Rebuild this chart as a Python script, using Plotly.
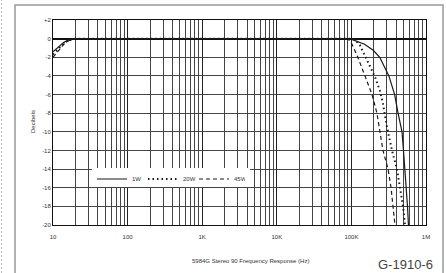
import plotly.graph_objects as go

# ---- data ----
freq_1w = [10, 12, 14, 16, 18, 20, 95000, 150000, 196000, 240000, 318000, 380000,
           422000, 477000, 499000, 523000, 548000, 565000, 582000]
db_1w = [-1.4, -0.8, -0.4, -0.15, -0.03, 0, 0, -0.6, -1.25, -2, -4, -6,
         -8, -10, -12, -14, -16, -18, -20]

freq_20w = [10, 12, 14, 16, 18, 20, 100000, 112000, 130000, 152000, 177000, 207000,
            241000, 265000, 300000, 350000, 408000, 448000, 492000, 523000]
db_20w = [-1.7, -1.0, -0.5, -0.2, -0.05, 0, 0, -0.1, -0.7, -1.8, -2.9, -4.1,
          -5.6, -7, -9.5, -12, -14, -16, -18, -20]

freq_45w = [10, 12, 14, 16, 18, 20, 90000, 102000, 122000, 152000, 189000, 220000,
            241000, 265000, 310000, 340000, 361000, 384000]
db_45w = [-2.0, -1.2, -0.6, -0.25, -0.07, 0, 0, -0.6, -2, -4, -6, -8,
          -10, -12, -14, -16, -18, -20]

x_tickvals = [10, 100, 1000, 10000, 100000, 1000000]
x_ticktext = ["10", "100", "1K", "10K", "100K", "1M"]
y_tickvals = [2, 0, -2, -4, -6, -8, -10, -12, -14, -16, -18, -20]
y_ticktext = ["+2", "0", "-2", "-4", "-6", "-8", "-10", "-12", "-14", "-16", "-18", "-20"]

series_names = ["1W", "20W", "45W"]

FONT = "Liberation Sans"
W, H = 446, 273
ML, MR, MT, MB = 53, 20, 20, 48
PW, PH = W - ML - MR, H - MT - MB


def px_x(p):
    return (p - ML) / PW


def px_y(p):
    return (H - MB - p) / PH


fig = go.Figure()
fig.add_trace(go.Scatter(x=freq_1w, y=db_1w, mode="lines", name=series_names[0],
                         line=dict(color="#1a1a1a", width=1.2)))
fig.add_trace(go.Scatter(x=freq_20w, y=db_20w, mode="lines", name=series_names[1],
                         line=dict(color="#1a1a1a", width=2, dash="1.5px,3px")))
fig.add_trace(go.Scatter(x=freq_45w, y=db_45w, mode="lines", name=series_names[2],
                         line=dict(color="#1a1a1a", width=1.2, dash="4px,3px")))

fig.update_layout(
    width=W, height=H,
    margin=dict(l=ML, r=MR, t=MT, b=MB),
    paper_bgcolor="white", plot_bgcolor="white",
    font=dict(family=FONT, size=6, color="#333"),
    showlegend=True,
    legend=dict(orientation="h", x=px_x(92), y=px_y(179), xanchor="left", yanchor="middle",
                bgcolor="rgba(0,0,0,0)", font=dict(size=6, color="#333"),
                itemwidth=30, entrywidth=6, tracegroupgap=0,
                borderwidth=0),
    xaxis=dict(type="log", range=[1, 6], tickvals=x_tickvals, ticktext=x_ticktext,
               showgrid=True, gridcolor="#222", gridwidth=1,
               minor=dict(dtick="D1", showgrid=True, gridcolor="#444", gridwidth=1),
               showline=True, linecolor="#111", linewidth=1, mirror=True,
               ticks="", ticklabelstandoff=6, zeroline=False,
               tickfont=dict(size=6, color="#333")),
    yaxis=dict(range=[-20, 2], tickvals=y_tickvals, ticktext=y_ticktext,
               showgrid=True, gridcolor="#444", gridwidth=1,
               showline=True, linecolor="#111", linewidth=1, mirror=True,
               ticks="", ticklabelstandoff=0, zeroline=True, zerolinecolor="#111",
               zerolinewidth=1.5, tickfont=dict(size=6, color="#333")),
)

fig.add_annotation(text="Decibels", textangle=-90, x=px_x(33), y=px_y(122),
                   xref="paper", yref="paper", showarrow=False, xanchor="center", yanchor="middle",
                   font=dict(size=6, color="#333"))
fig.add_annotation(text="5984G Stereo 90 Frequency Response (Hz)", x=px_x(250), y=px_y(261),
                   xref="paper", yref="paper", showarrow=False, xanchor="center", yanchor="middle",
                   font=dict(size=6, color="#333"))
fig.add_annotation(text="G-1910-6", x=px_x(405), y=px_y(264),
                   xref="paper", yref="paper", showarrow=False, xanchor="center", yanchor="middle",
                   font=dict(size=13, color="#444"))

# white backing of the legend
fig.add_shape(type="rect", xref="paper", yref="paper",
              x0=px_x(92), x1=px_x(250), y0=px_y(187), y1=px_y(168),
              line=dict(width=0), fillcolor="white", layer="above")
# outer frame and left dotted edge
fig.add_shape(type="rect", xref="paper", yref="paper",
              x0=px_x(15), x1=px_x(443), y0=px_y(290), y1=px_y(5),
              line=dict(color="#999", width=1.5), layer="below")
fig.add_shape(type="line", xref="paper", yref="paper",
              x0=px_x(1.5), x1=px_x(1.5), y0=px_y(273), y1=px_y(0),
              line=dict(color="#bbb", width=1, dash="2px,2px"))

fig.write_html("out.html", config={"displayModeBar": False},
               post_script="document.body.style.margin='0';")
